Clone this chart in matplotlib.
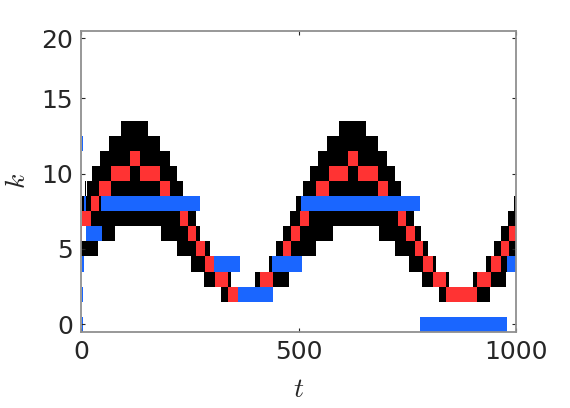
import matplotlib
matplotlib.use("Agg")
import matplotlib.pyplot as plt

plt.rcParams['font.family'] = ['DejaVu Sans']
plt.rcParams['mathtext.fontset'] = 'cm'

# Cells of each state: (k, t_start, t_end)
black_cells = [
    (2, 322, 338), (2, 822, 839), (2, 910, 940),
    (3, 283, 308), (3, 338, 345), (3, 400, 410), (3, 442, 477),
    (3, 783, 809), (3, 839, 846), (3, 901, 910), (3, 942, 977),
    (4, 253, 285), (4, 431, 438), (4, 753, 786), (4, 809, 816),
    (4, 931, 942), (4, 965, 979),
    (5, 0, 38), (5, 221, 264), (5, 285, 297), (5, 449, 463), (5, 483, 539),
    (5, 721, 767), (5, 786, 797), (5, 949, 965), (5, 984, 1000),
    (6, 47, 78), (6, 184, 246), (6, 264, 274), (6, 465, 483), (6, 502, 578),
    (6, 684, 746), (6, 767, 781), (6, 965, 984),
    (7, 22, 228), (7, 246, 264), (7, 481, 502), (7, 523, 728),
    (7, 746, 765), (7, 982, 1000),
    (8, 1.6, 6), (8, 11, 22), (8, 41, 45), (8, 495, 506), (8, 996, 1000),
    (9, 8.5, 10.8), (9, 13, 41), (9, 68, 181), (9, 205, 235),
    (9, 511, 541), (9, 569, 682), (9, 705, 735),
    (10, 25, 68), (10, 112, 135), (10, 181, 220),
    (10, 527, 569), (10, 613, 636), (10, 682, 721),
    (11, 43, 112), (11, 135, 203), (11, 544, 613), (11, 636, 703),
    (12, 64, 181), (12, 565, 682),
    (13, 92, 154), (13, 593, 655),
]
red_cells = [
    (2, 338, 361), (2, 839, 910),
    (3, 308, 338), (3, 410, 442), (3, 809, 839), (3, 910, 942),
    (4, 285, 306), (4, 786, 809), (4, 942, 965),
    (5, 264, 285), (5, 463, 483), (5, 767, 786), (5, 965, 984),
    (6, 0, 1.6), (6, 246, 264), (6, 483, 502), (6, 746, 767), (6, 984, 1000),
    (7, 1.6, 22), (7, 228, 246), (7, 502, 523), (7, 728, 746),
    (8, 22, 41),
    (9, 41, 68), (9, 181, 205), (9, 541, 569), (9, 682, 705),
    (10, 68, 112), (10, 135, 181), (10, 569, 613), (10, 636, 682),
    (11, 112, 135), (11, 613, 636),
]
blue_cells = [
    (0, 2, 4.5), (0, 779, 979),
    (2, 1.5, 4.5), (2, 361, 440),
    (4, 1.6, 6), (4, 306, 364), (4, 438, 508), (4, 979, 1000),
    (6, 11, 47),
    (8, 6, 11), (8, 45, 274), (8, 506, 779),
    (12, 1.6, 4),
]

ytick_pos = [0, 5, 10, 15, 19]
ytick_labels = ['0', '5', '10', '15', '20']
xtick_pos = [0, 500, 1000]

fig = plt.figure(figsize=(5.7, 4.08), dpi=100)
ax = fig.add_axes([81.3 / 570, 1 - 331.7 / 408, (516 - 81.3) / 570, (331.7 - 30.7) / 408])

for cells, col in [(black_cells, 'black'), (red_cells, '#ff3333'), (blue_cells, '#1a66ff')]:
    ks = [c[0] for c in cells]
    left = [c[1] for c in cells]
    width = [c[2] - c[1] for c in cells]
    ax.barh(ks, width, left=left, height=1, color=col, linewidth=0, antialiased=False)

ax.set_xlim(0, 1000)
ax.set_ylim(-0.5, 19.5)
ax.set_xticks(xtick_pos)
ax.set_xticklabels([str(v) for v in xtick_pos])
ax.set_yticks(ytick_pos)
ax.set_yticklabels(ytick_labels)

ax.tick_params(direction='in', length=3, width=0.8, color='#262626',
               labelsize=18, labelcolor='#262626', top=True, right=True, pad=6)
for s in ax.spines.values():
    s.set_color('#909090')
    s.set_linewidth(1.3)

ax.set_xlabel('$t$', fontsize=20, color='#262626', labelpad=8)
ax.set_ylabel('$k$', fontsize=20, color='#262626', labelpad=7)

fig.savefig('out.png', dpi=100)
